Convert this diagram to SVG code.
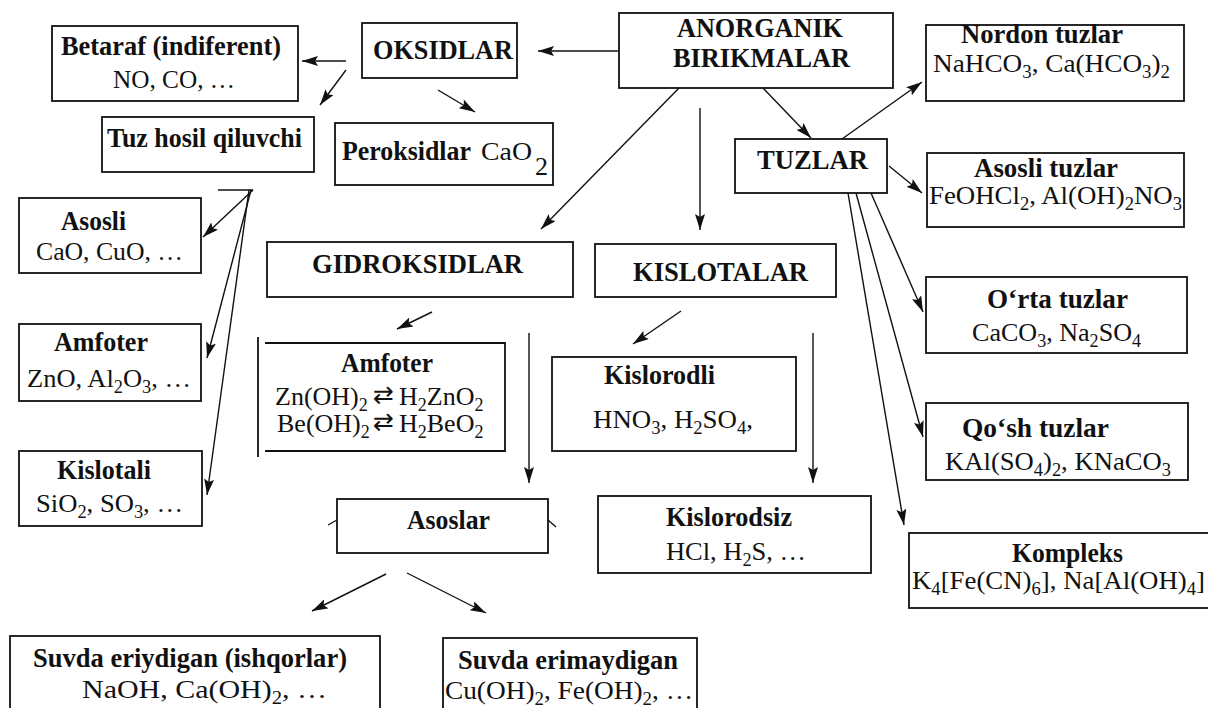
<svg xmlns="http://www.w3.org/2000/svg" width="1208" height="708" viewBox="0 0 1208 708">
<style>
.b{font-family:"Liberation Serif","Times New Roman",serif;font-weight:bold;font-size:28px;fill:#111}
.r{font-family:"Liberation Serif","Times New Roman",serif;font-size:26px;fill:#111}
.box{fill:none;stroke:#111;stroke-width:1.8}
.ln{fill:none;stroke:#111;stroke-width:1.4}
.eq{font-family:"DejaVu Sans",sans-serif;font-size:25px;fill:#111}
.s{font-size:18px}
</style>
<defs>
<marker id="ah" viewBox="0 0 16 10" refX="16" refY="5" markerWidth="16" markerHeight="10" markerUnits="userSpaceOnUse" orient="auto">
<path d="M0,0 L16,5 L0,10 L3,5 z" fill="#111"/>
</marker>
</defs>
<rect width="1208" height="708" fill="#fff"/>

<g id="connectors">
<line class="ln" x1="618" y1="51" x2="538" y2="51" marker-end="url(#ah)"/>
<line class="ln" x1="346" y1="61" x2="302" y2="61" marker-end="url(#ah)"/>
<line class="ln" x1="346" y1="70" x2="320" y2="105" marker-end="url(#ah)"/>
<line class="ln" x1="438" y1="90" x2="475" y2="112" marker-end="url(#ah)"/>
<line class="ln" x1="679" y1="88" x2="541" y2="229" marker-end="url(#ah)"/>
<line class="ln" x1="700" y1="108" x2="700" y2="230" marker-end="url(#ah)"/>
<line class="ln" x1="763" y1="88" x2="811" y2="138" marker-end="url(#ah)"/>
<line class="ln" x1="842" y1="139" x2="922" y2="82" marker-end="url(#ah)"/>
<line class="ln" x1="889" y1="166" x2="922" y2="193" marker-end="url(#ah)"/>
<line class="ln" x1="871" y1="193" x2="923" y2="312" marker-end="url(#ah)"/>
<line class="ln" x1="856" y1="193" x2="923" y2="437" marker-end="url(#ah)"/>
<line class="ln" x1="848" y1="193" x2="904" y2="525" marker-end="url(#ah)"/>
<line class="ln" x1="218" y1="190" x2="253" y2="190"/>
<line class="ln" x1="253" y1="190" x2="203" y2="237" marker-end="url(#ah)"/>
<line class="ln" x1="251" y1="190" x2="207" y2="358" marker-end="url(#ah)"/>
<line class="ln" x1="249" y1="190" x2="207" y2="495" marker-end="url(#ah)"/>
<line class="ln" x1="432" y1="312" x2="397" y2="329" marker-end="url(#ah)"/>
<line class="ln" x1="529" y1="333" x2="529" y2="483" marker-end="url(#ah)"/>
<line class="ln" x1="681" y1="311" x2="633" y2="344" marker-end="url(#ah)"/>
<line class="ln" x1="813" y1="333" x2="813" y2="483" marker-end="url(#ah)"/>
<line class="ln" x1="386" y1="574" x2="312" y2="611" marker-end="url(#ah)"/>
<line class="ln" x1="407" y1="573" x2="486" y2="613" marker-end="url(#ah)"/>
<line class="ln" x1="328" y1="525" x2="337" y2="520"/>
<line class="ln" x1="548" y1="520" x2="556" y2="527"/>
</g>

<g id="anorganik">
<rect class="box" x="619" y="13" width="274" height="75"/>
<text class="b" x="677" y="37" textLength="166" lengthAdjust="spacingAndGlyphs">ANORGANIK</text>
<text class="b" x="673" y="67" textLength="177" lengthAdjust="spacingAndGlyphs">BIRIKMALAR</text>
</g>

<g id="oksidlar">
<rect class="box" x="362" y="23" width="155" height="55"/>
<text class="b" x="373" y="59" textLength="140" lengthAdjust="spacingAndGlyphs">OKSIDLAR</text>
</g>

<g id="betaraf">
<rect class="box" x="52" y="26" width="246" height="75"/>
<text class="b" x="61" y="55" textLength="220" lengthAdjust="spacingAndGlyphs">Betaraf (indiferent)</text>
<text class="r" x="113" y="88" textLength="122" lengthAdjust="spacingAndGlyphs">NO, CO, …</text>
</g>

<g id="tuzhosil">
<rect class="box" x="102" y="117" width="212" height="55"/>
<text class="b" x="107" y="147" textLength="195" lengthAdjust="spacingAndGlyphs">Tuz hosil qiluvchi</text>
</g>

<g id="peroksidlar">
<rect class="box" x="335" y="123" width="218" height="62"/>
<text class="b" x="342" y="160" font-size="26" textLength="129" lengthAdjust="spacingAndGlyphs">Peroksidlar</text>
<text class="r" x="481" y="160" textLength="51" lengthAdjust="spacingAndGlyphs">CaO</text>
<text class="r" x="535" y="175">2</text>
</g>

<g id="asosli-oksid">
<rect class="box" x="19" y="198" width="182" height="75"/>
<text class="b" x="61" y="230" textLength="65" lengthAdjust="spacingAndGlyphs">Asosli</text>
<text class="r" x="36" y="260" textLength="147" lengthAdjust="spacingAndGlyphs">CaO, CuO, …</text>
</g>

<g id="amfoter-oksid">
<rect class="box" x="19" y="324" width="182" height="77"/>
<text class="b" x="54" y="351" textLength="94" lengthAdjust="spacingAndGlyphs">Amfoter</text>
<text class="r" x="27" y="387" textLength="164" lengthAdjust="spacingAndGlyphs">ZnO, Al<tspan class="s" dy="6">2</tspan><tspan dy="-6">O</tspan><tspan class="s" dy="6">3</tspan><tspan dy="-6">, …</tspan></text>
</g>

<g id="kislotali-oksid">
<rect class="box" x="19" y="451" width="183" height="75"/>
<text class="b" x="57" y="479" textLength="94" lengthAdjust="spacingAndGlyphs">Kislotali</text>
<text class="r" x="36" y="512" textLength="147" lengthAdjust="spacingAndGlyphs">SiO<tspan class="s" dy="6">2</tspan><tspan dy="-6">, SO</tspan><tspan class="s" dy="6">3</tspan><tspan dy="-6">, …</tspan></text>
</g>

<g id="gidroksidlar">
<rect class="box" x="267" y="242" width="306" height="55"/>
<text class="b" x="312" y="273" textLength="211" lengthAdjust="spacingAndGlyphs">GIDROKSIDLAR</text>
</g>

<g id="amfoter-gidroksid">
<path class="box" d="M265,343 H505 V451 H265"/>
<line class="box" x1="258" y1="337" x2="258" y2="457"/>
<text class="b" x="341" y="372" textLength="92" lengthAdjust="spacingAndGlyphs">Amfoter</text>
<text class="r" x="275" y="405" font-size="27">Zn(OH)<tspan class="s" dy="6">2</tspan><tspan class="eq" x="373" dy="-8">⇄</tspan><tspan x="399" dy="2">H</tspan><tspan class="s" dy="6">2</tspan><tspan dy="-6">ZnO</tspan><tspan class="s" dy="6">2</tspan></text>
<text class="r" x="277" y="432" font-size="27">Be(OH)<tspan class="s" dy="6">2</tspan><tspan class="eq" x="373" dy="-8">⇄</tspan><tspan x="399" dy="2">H</tspan><tspan class="s" dy="6">2</tspan><tspan dy="-6">BeO</tspan><tspan class="s" dy="6">2</tspan></text>
</g>

<g id="kislotalar">
<rect class="box" x="595" y="244" width="241" height="53"/>
<text class="b" x="633" y="281" textLength="175" lengthAdjust="spacingAndGlyphs">KISLOTALAR</text>
</g>

<g id="kislorodli">
<rect class="box" x="552" y="357" width="244" height="94"/>
<text class="b" x="604" y="384" textLength="111" lengthAdjust="spacingAndGlyphs">Kislorodli</text>
<text class="r" x="593" y="428" textLength="160" lengthAdjust="spacingAndGlyphs">HNO<tspan class="s" dy="6">3</tspan><tspan dy="-6">, H</tspan><tspan class="s" dy="6">2</tspan><tspan dy="-6">SO</tspan><tspan class="s" dy="6">4</tspan><tspan dy="-6">,</tspan></text>
</g>

<g id="asoslar">
<rect class="box" x="337" y="499" width="211" height="54"/>
<text class="b" x="407" y="529" textLength="83" lengthAdjust="spacingAndGlyphs">Asoslar</text>
</g>

<g id="kislorodsiz">
<rect class="box" x="598" y="496" width="273" height="77"/>
<text class="b" x="666" y="526" textLength="126" lengthAdjust="spacingAndGlyphs">Kislorodsiz</text>
<text class="r" x="666" y="560" textLength="140" lengthAdjust="spacingAndGlyphs">HCl, H<tspan class="s" dy="6">2</tspan><tspan dy="-6">S, …</tspan></text>
</g>

<g id="tuzlar">
<rect class="box" x="735" y="139" width="152" height="54"/>
<text class="b" x="757" y="169" textLength="111" lengthAdjust="spacingAndGlyphs">TUZLAR</text>
</g>

<g id="nordon">
<rect class="box" x="926" y="25" width="258" height="76"/>
<text class="b" x="961" y="43" textLength="162" lengthAdjust="spacingAndGlyphs">Nordon tuzlar</text>
<text class="r" x="933" y="72" textLength="237" lengthAdjust="spacingAndGlyphs">NaHCO<tspan class="s" dy="6">3</tspan><tspan dy="-6">, Ca(HCO</tspan><tspan class="s" dy="6">3</tspan><tspan dy="-6">)</tspan><tspan class="s" dy="6">2</tspan></text>
</g>

<g id="asosli-tuzlar">
<rect class="box" x="927" y="153" width="257" height="74"/>
<text class="b" x="974" y="177" textLength="144" lengthAdjust="spacingAndGlyphs">Asosli tuzlar</text>
<text class="r" x="929" y="204" textLength="253" lengthAdjust="spacingAndGlyphs">FeOHCl<tspan class="s" dy="6">2</tspan><tspan dy="-6">, Al(OH)</tspan><tspan class="s" dy="6">2</tspan><tspan dy="-6">NO</tspan><tspan class="s" dy="6">3</tspan></text>
</g>

<g id="orta-tuzlar">
<rect class="box" x="926" y="277" width="261" height="76"/>
<text class="b" x="987" y="308" textLength="141" lengthAdjust="spacingAndGlyphs">O‘rta tuzlar</text>
<text class="r" x="972" y="341" textLength="169" lengthAdjust="spacingAndGlyphs">CaCO<tspan class="s" dy="6">3</tspan><tspan dy="-6">, Na</tspan><tspan class="s" dy="6">2</tspan><tspan dy="-6">SO</tspan><tspan class="s" dy="6">4</tspan></text>
</g>

<g id="qosh-tuzlar">
<rect class="box" x="926" y="403" width="262" height="77"/>
<text class="b" x="962" y="437" textLength="147" lengthAdjust="spacingAndGlyphs">Qo‘sh tuzlar</text>
<text class="r" x="945" y="470" textLength="226" lengthAdjust="spacingAndGlyphs">KAl(SO<tspan class="s" dy="6">4</tspan><tspan dy="-6">)</tspan><tspan class="s" dy="6">2</tspan><tspan dy="-6">, KNaCO</tspan><tspan class="s" dy="6">3</tspan></text>
</g>

<g id="kompleks">
<rect class="box" x="909" y="533" width="305" height="75"/>
<text class="b" x="1012" y="562" textLength="111" lengthAdjust="spacingAndGlyphs">Kompleks</text>
<text class="r" x="912" y="589" textLength="293" lengthAdjust="spacingAndGlyphs">K<tspan class="s" dy="6">4</tspan><tspan dy="-6">[Fe(CN)</tspan><tspan class="s" dy="6">6</tspan><tspan dy="-6">], Na[Al(OH)</tspan><tspan class="s" dy="6">4</tspan><tspan dy="-6">]</tspan></text>
</g>

<g id="suvda-eriydigan">
<rect class="box" x="10" y="636" width="370" height="80"/>
<text class="b" x="33" y="667" textLength="314" lengthAdjust="spacingAndGlyphs">Suvda eriydigan (ishqorlar)</text>
<text class="r" x="82" y="698" textLength="245" lengthAdjust="spacingAndGlyphs">NaOH, Ca(OH)<tspan class="s" dy="6">2</tspan><tspan dy="-6">, …</tspan></text>
</g>

<g id="suvda-erimaydigan">
<rect class="box" x="443" y="638" width="254" height="80"/>
<text class="b" x="458" y="669" textLength="220" lengthAdjust="spacingAndGlyphs">Suvda erimaydigan</text>
<text class="r" x="445" y="699" textLength="248" lengthAdjust="spacingAndGlyphs">Cu(OH)<tspan class="s" dy="6">2</tspan><tspan dy="-6">, Fe(OH)</tspan><tspan class="s" dy="6">2</tspan><tspan dy="-6">, …</tspan></text>
</g>
</svg>
